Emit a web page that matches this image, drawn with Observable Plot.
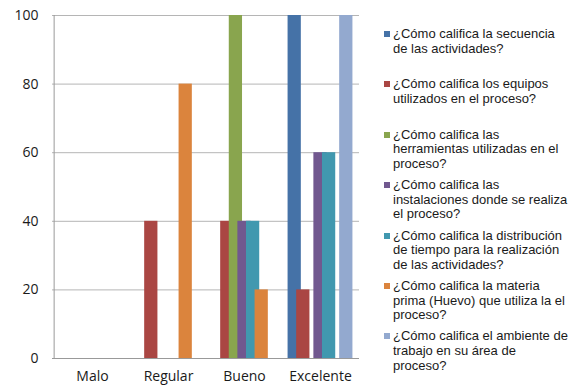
<!DOCTYPE html>
<html>
<head>
<meta charset="utf-8">
<script src="https://cdn.jsdelivr.net/npm/d3@7"></script>
<script src="https://cdn.jsdelivr.net/npm/@observablehq/plot@0.6"></script>
<style>
  html, body { margin: 0; padding: 0; background: #fff; }
  #wrap { position: relative; width: 579px; height: 386px; }
  #legend { position: absolute; left: 0; top: 0; }
  .item { position: absolute; left: 384px; width: 195px; font-family: "Liberation Sans", Arial, sans-serif; font-size: 13px; line-height: 14.6px; color: #1a1a1a; white-space: pre-line; }
  .sw { position: absolute; left: 0; top: 4px; width: 6px; height: 6px; }
  .tx { position: absolute; left: 9px; top: 0; }
</style>
</head>
<body>
<div id="wrap"></div>
<script>
const categories = ["Malo", "Regular", "Bueno", "Excelente"];
const seriesNames = [
  "¿Cómo califica la secuencia\nde las actividades?",
  "¿Cómo califica los equipos\nutilizados en el proceso?",
  "¿Cómo califica las\nherramientas utilizadas en el\nproceso?",
  "¿Cómo califica las\ninstalaciones donde se realiza\nel proceso?",
  "¿Cómo califica la distribución\nde tiempo para la realización\nde las actividades?",
  "¿Cómo califica la materia\nprima (Huevo) que utiliza la el\nproceso?",
  "¿Cómo califica el ambiente de\ntrabajo en su área de\nproceso?"
];
const colors = ["#4572A7", "#AA4643", "#89A54E", "#71588F", "#4198AF", "#DB843D", "#93A9CF"];
// values per series, in category order (Malo, Regular, Bueno, Excelente)
const secuencia     = [0, 0, 0, 100];
const equipos       = [0, 40, 40, 20];
const herramientas  = [0, 0, 100, 0];
const instalaciones = [0, 0, 40, 60];
const distribucion  = [0, 0, 40, 60];
const materia       = [0, 80, 20, 0];
const ambiente      = [0, 0, 0, 100];
const yTicks = [0, 20, 40, 60, 80, 100];

const seriesValues = [secuencia, equipos, herramientas, instalaciones, distribucion, materia, ambiente];

const step = 8.6;      // px offset between overlapping bars
const barW = 14;       // px bar width
const bandW = 307 / 4; // px width of a category band
const inset = (bandW - barW) / 2;

const barMarks = seriesValues.map((vals, i) => {
  const data = categories.map((c, j) => ({category: c, value: vals[j]}));
  return Plot.barY(data, {
    x: "category", y: "value", fill: colors[i],
    dx: (i - 3) * step, insetLeft: inset, insetRight: inset
  });
});

const chart = Plot.plot({
  width: 579, height: 386,
  marginLeft: 52, marginRight: 220, marginTop: 15, marginBottom: 28,
  style: { fontFamily: "'Open Sans', sans-serif", fontSize: "14px", color: "#1a1a1a", background: "#fff" },
  x: { domain: categories, padding: 0, label: null },
  y: { domain: [0, 100], label: null },
  marks: [
    Plot.ruleY(yTicks.filter(t => t > 0), { stroke: "#b5b5b5", strokeWidth: 1 }),
    ...barMarks,
    Plot.ruleY([0], { stroke: "#999", strokeWidth: 1 }),
    Plot.ruleX([categories[0]], { dx: -bandW / 2, stroke: "#999", strokeWidth: 1 }),
    Plot.axisY({ ticks: yTicks, tickSize: 0, tickPadding: 14, label: null, fontSize: 14 }),
    Plot.axisX({ tickSize: 0, tickPadding: 13, label: null, fontSize: 14 })
  ]
});

const wrap = document.getElementById("wrap");
wrap.appendChild(chart);

const legend = document.createElement("div");
legend.id = "legend";
seriesNames.forEach((name, i) => {
  const item = document.createElement("div");
  item.className = "item";
  item.style.top = (27 + i * 50.4) + "px";
  const sw = document.createElement("div");
  sw.className = "sw";
  sw.style.background = colors[i];
  const tx = document.createElement("div");
  tx.className = "tx";
  tx.textContent = name;
  item.appendChild(sw);
  item.appendChild(tx);
  legend.appendChild(item);
});
wrap.appendChild(legend);
</script>
</body>
</html>
